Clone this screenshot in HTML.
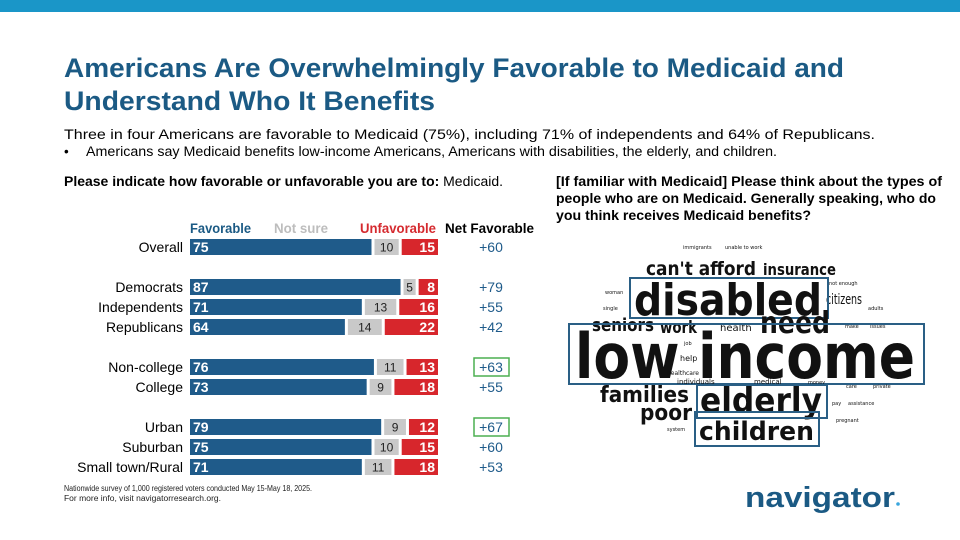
<!DOCTYPE html>
<html><head><meta charset="utf-8">
<style>
html,body{margin:0;padding:0;background:#fff;}
svg{display:block;font-family:"Liberation Sans",sans-serif;}
</style></head>
<body>
<svg id="root" width="960" height="540" viewBox="0 0 960 540" xmlns="http://www.w3.org/2000/svg">
<rect x="0" y="0" width="960" height="12" fill="#1a96c8"/>
<g fill="#1b5a84" font-weight="bold" font-size="27">
<text x="64" y="77" textLength="780" lengthAdjust="spacingAndGlyphs">Americans Are Overwhelmingly Favorable to Medicaid and</text>
<text x="64" y="110" textLength="371" lengthAdjust="spacingAndGlyphs">Understand Who It Benefits</text>
</g>
<g font-size="13.5" fill="#000">
<text x="64" y="139" textLength="811" lengthAdjust="spacingAndGlyphs">Three in four Americans are favorable to Medicaid (75%), including 71% of independents and 64% of Republicans.</text>
<text x="64" y="156">•</text>
<text x="86" y="156" textLength="691" lengthAdjust="spacingAndGlyphs">Americans say Medicaid benefits low-income Americans, Americans with disabilities, the elderly, and children.</text>
</g>
<text x="64" y="186" font-size="13.5" textLength="439" lengthAdjust="spacingAndGlyphs"><tspan font-weight="bold">Please indicate how favorable or unfavorable you are to: </tspan>Medicaid.</text>
<g font-size="13.5" font-weight="bold">
<text x="556" y="186" textLength="386" lengthAdjust="spacingAndGlyphs">[If familiar with Medicaid] Please think about the types of</text>
<text x="556" y="203" textLength="380" lengthAdjust="spacingAndGlyphs">people who are on Medicaid. Generally speaking, who do</text>
<text x="556" y="220" textLength="255" lengthAdjust="spacingAndGlyphs">you think receives Medicaid benefits?</text>
</g>
<g font-size="13.5" font-weight="bold">
<text x="190" y="233" fill="#1b5a84" textLength="61" lengthAdjust="spacingAndGlyphs">Favorable</text>
<text x="274" y="233" fill="#bdbdbd" textLength="54" lengthAdjust="spacingAndGlyphs">Not sure</text>
<text x="360" y="233" fill="#d52a2f" textLength="76" lengthAdjust="spacingAndGlyphs">Unfavorable</text>
<text x="445" y="233" fill="#000" textLength="89" lengthAdjust="spacingAndGlyphs">Net Favorable</text>
</g>
<g id="bars"></g>
<g font-family="'DejaVu Sans',sans-serif" fill="#111">
<text x="683" y="249" font-size="5">immigrants</text>
<text x="725" y="249" font-size="5">unable to work</text>
<text x="646" y="275" font-size="19" font-weight="bold" textLength="110" lengthAdjust="spacingAndGlyphs">can't afford</text>
<text x="763" y="275" font-size="16" font-weight="bold" textLength="73" lengthAdjust="spacingAndGlyphs">insurance</text>
<text x="829" y="285" font-size="5">not enough</text>
<text x="605" y="294" font-size="5">woman</text>
<text x="603" y="310" font-size="5">single</text>
<text x="868" y="310" font-size="5">adults</text>
<text x="826" y="304" font-size="14" textLength="36" lengthAdjust="spacingAndGlyphs">citizens</text>
<text x="634" y="315" font-size="44" font-weight="bold" textLength="188" lengthAdjust="spacingAndGlyphs">disabled</text>
<rect x="630" y="278" width="198" height="40" fill="none" stroke="#2a5f85" stroke-width="2"/>
<text x="592" y="331" font-size="18" font-weight="bold" textLength="62" lengthAdjust="spacingAndGlyphs">seniors</text>
<text x="660" y="333" font-size="17" font-weight="bold" textLength="37" lengthAdjust="spacingAndGlyphs">work</text>
<text x="720" y="331" font-size="10">health</text>
<text x="760" y="333" font-size="30" font-weight="bold" textLength="70" lengthAdjust="spacingAndGlyphs">need</text>
<text x="845" y="328" font-size="5">make</text>
<text x="870" y="328" font-size="5">issues</text>
<text x="575" y="378" font-size="62" font-weight="bold" textLength="340" lengthAdjust="spacingAndGlyphs">low income</text>
<text x="684" y="345" font-size="5">job</text>
<text x="680" y="361" font-size="8">help</text>
<text x="667" y="375" font-size="6">healthcare</text>
<rect x="569" y="324" width="355" height="60" fill="none" stroke="#2a5f85" stroke-width="2"/>
<text x="677" y="384" font-size="7">individuals</text>
<text x="754" y="384" font-size="7">medical</text>
<text x="808" y="384" font-size="5">money</text>
<text x="846" y="388" font-size="5">care</text>
<text x="873" y="388" font-size="5">private</text>
<text x="600" y="402" font-size="22" font-weight="bold" textLength="89" lengthAdjust="spacingAndGlyphs">families</text>
<text x="640" y="420" font-size="22" font-weight="bold" textLength="52" lengthAdjust="spacingAndGlyphs">poor</text>
<text x="700" y="412" font-size="34" font-weight="bold" textLength="122" lengthAdjust="spacingAndGlyphs">elderly</text>
<rect x="697" y="385" width="130" height="33" fill="none" stroke="#2a5f85" stroke-width="2"/>
<text x="832" y="405" font-size="5">pay</text>
<text x="848" y="405" font-size="5">assistance</text>
<text x="836" y="422" font-size="5">pregnant</text>
<text x="667" y="431" font-size="5">system</text>
<text x="699" y="440" font-size="26" font-weight="bold" textLength="115" lengthAdjust="spacingAndGlyphs">children</text>
<rect x="695" y="412" width="124" height="34" fill="none" stroke="#2a5f85" stroke-width="2"/>
</g>
<g font-size="8" fill="#222">
<text x="64" y="491" textLength="248" lengthAdjust="spacingAndGlyphs">Nationwide survey of 1,000 registered voters conducted May 15-May 18, 2025.</text>
<text x="64" y="501" textLength="157" lengthAdjust="spacingAndGlyphs">For more info, visit navigatorresearch.org.</text>
</g>
<g>
<text x="745" y="507" font-size="29" font-weight="bold" fill="#1b5a84" textLength="150" lengthAdjust="spacingAndGlyphs">navigator</text>
<circle cx="898" cy="504" r="1.8" fill="#3aa6dd"/>
</g>
</svg>
<script>
const categories = ["Overall","Democrats","Independents","Republicans","Non-college","College","Urban","Suburban","Small town/Rural"];
const favorable = [75,87,71,64,76,73,79,75,71];
const notSure = [10,5,13,14,11,9,9,10,11];
const unfavorable = [15,8,16,22,13,18,12,15,18];
const netLabels = ["+60","+79","+55","+42","+63","+55","+67","+60","+53"];
const highlighted = [false,false,false,false,true,false,true,false,false];
const groupIndex = [0,1,1,1,2,2,3,3,3];

const NS = "http://www.w3.org/2000/svg";
const g = document.getElementById('bars');
const x0 = 190, scale = 2.42, gap = 3, barH = 16;
function xs(v){ return v*scale; }
function mk(tag, attrs, txt){
  const e = document.createElementNS(NS, tag);
  for (const k in attrs) e.setAttribute(k, attrs[k]);
  if (txt !== undefined) e.textContent = txt;
  g.appendChild(e);
  return e;
}
categories.forEach((c, i) => {
  const cy = 247 + i*20 + groupIndex[i]*20;
  const top = cy - barH/2;
  const lab = mk('text', {x:183, y:cy+5, 'text-anchor':'end', 'font-size':14, fill:'#000'}, c);
  
  
  const wf = xs(favorable[i]);
  const b1 = mk('rect', {x:x0, y:top, width:wf, height:barH, fill:'#1f5b8a'});
  
  
  const t1 = mk('text', {x:x0+3, y:cy+5, 'font-size':14, fill:'#fff', 'font-weight':'bold'}, favorable[i]);
  
  
  const xn = x0 + wf + gap, wn = xs(notSure[i]);
  const b2 = mk('rect', {x:xn, y:top, width:wn, height:barH, fill:'#c9c9c9'});
  
  
  const t2 = mk('text', {x:xn+wn/2, y:cy+4.5, 'text-anchor':'middle', 'font-size':12, fill:'#222'}, notSure[i]);
  
  
  const xu = xn + wn + gap, wu = xs(unfavorable[i]);
  const b3 = mk('rect', {x:xu, y:top, width:wu, height:barH, fill:'#d7262c'});
  
  
  const t3 = mk('text', {x:xu+wu-3, y:cy+5, 'text-anchor':'end', 'font-size':14, fill:'#fff', 'font-weight':'bold'}, unfavorable[i]);
  
  
  const n = mk('text', {x:491, y:cy+5, 'text-anchor':'middle', 'font-size':14, fill:'#1f5b8a'}, netLabels[i]);
  
  
  if (highlighted[i]) {
    const r = mk('rect', {x:474, y:cy-9, width:35, height:18, fill:'none', stroke:'#4caf50', 'stroke-width':1.5});
    
    
  }
});
</script>
</body></html>
